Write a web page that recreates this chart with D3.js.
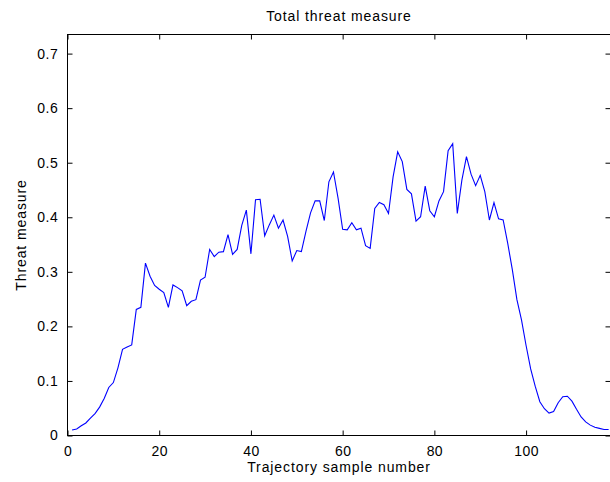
<!DOCTYPE html>
<html>
<head>
<meta charset="utf-8">
<script src="https://cdn.jsdelivr.net/npm/d3@7"></script>
<style>
  html, body { margin: 0; padding: 0; background: #fff; }
  svg { display: block; }
  text { font-family: "Liberation Sans", Arial, Helvetica, sans-serif; fill: #000; }
</style>
</head>
<body>
<svg id="chart" width="610" height="482"></svg>
<script>
// Threat measure per trajectory sample (samples 1..118)
const samples = d3.range(1, 119);
const threat = [
  0.010, 0.012, 0.018, 0.023, 0.032, 0.040, 0.052, 0.068, 0.088, 0.097,
  0.124, 0.158, 0.162, 0.166, 0.231, 0.235, 0.316, 0.292, 0.275, 0.268,
  0.262, 0.235, 0.276, 0.271, 0.265, 0.238, 0.246, 0.249, 0.285, 0.290,
  0.341, 0.328, 0.336, 0.337, 0.368, 0.332, 0.341, 0.385, 0.413, 0.333,
  0.432, 0.433, 0.366, 0.386, 0.404, 0.380, 0.395, 0.365, 0.320, 0.339,
  0.337, 0.374, 0.408, 0.430, 0.430, 0.394, 0.465, 0.483, 0.435, 0.378,
  0.377, 0.390, 0.377, 0.380, 0.348, 0.343, 0.416, 0.427, 0.423, 0.407,
  0.474, 0.520, 0.502, 0.451, 0.443, 0.393, 0.401, 0.457, 0.412, 0.401,
  0.430, 0.447, 0.522, 0.535, 0.407, 0.468, 0.511, 0.479, 0.458, 0.477,
  0.447, 0.395, 0.427, 0.397, 0.395, 0.352, 0.304, 0.249, 0.212, 0.165,
  0.122, 0.090, 0.062, 0.049, 0.041, 0.044, 0.060, 0.071, 0.072, 0.063,
  0.048, 0.034, 0.025, 0.019, 0.015, 0.013, 0.011, 0.011
];
const xTicks = [0, 20, 40, 60, 80, 100];
const yTicks = [0, 0.1, 0.2, 0.3, 0.4, 0.5, 0.6, 0.7];
const titleText = "Total threat measure";
const xLabelText = "Trajectory sample number";
const yLabelText = "Threat measure";

const svg = d3.select("#chart");
const plotLeft = 67.5, plotRight = 610.5, plotTop = 34.5, plotBottom = 435.5;

const x = d3.scaleLinear().domain([0, 118.3]).range([plotLeft, plotRight - 0.5]);
const y = d3.scaleLinear().domain([0, 0.735]).range([plotBottom, plotTop]);

const tickLen = 5;
const fontSize = 14;

// Axes box
svg.append("rect")
  .attr("x", plotLeft).attr("y", plotTop)
  .attr("width", plotRight - plotLeft).attr("height", plotBottom - plotTop)
  .attr("fill", "none").attr("stroke", "#000").attr("stroke-width", 1);

// Inward ticks on all four sides
const dropDomain = g => g.select(".domain").remove();

const xb = svg.append("g")
  .attr("transform", `translate(0,${plotBottom})`)
  .call(d3.axisBottom(x).tickValues(xTicks).tickSizeInner(-tickLen).tickSizeOuter(0)
    .tickPadding(tickLen + 6).tickFormat(d3.format("d")))
  .call(dropDomain);
xb.selectAll("text").attr("font-size", fontSize).attr("letter-spacing", 0.4)
  .attr("font-family", "Liberation Sans, Arial, sans-serif");

svg.append("g")
  .attr("transform", `translate(0,${plotTop})`)
  .call(d3.axisTop(x).tickValues(xTicks).tickSizeInner(-tickLen).tickSizeOuter(0).tickFormat(""))
  .call(dropDomain);

const yl = svg.append("g")
  .attr("transform", `translate(${plotLeft},0)`)
  .call(d3.axisLeft(y).tickValues(yTicks).tickSizeInner(-tickLen).tickSizeOuter(0)
    .tickPadding(tickLen + 4).tickFormat(d => d === 0 ? "0" : d3.format(".1f")(d)))
  .call(dropDomain);
yl.selectAll("text").attr("font-size", fontSize).attr("letter-spacing", 0.6)
  .attr("font-family", "Liberation Sans, Arial, sans-serif");

svg.append("g")
  .attr("transform", `translate(${plotRight},0)`)
  .call(d3.axisRight(y).tickValues(yTicks).tickSizeInner(-tickLen).tickSizeOuter(0).tickFormat(""))
  .call(dropDomain);

svg.selectAll(".tick line").attr("stroke", "#000");

// Data line
const line = d3.line()
  .x((d, i) => x(samples[i]))
  .y(d => y(d));

svg.append("path")
  .datum(threat)
  .attr("fill", "none")
  .attr("stroke", "#0000ff")
  .attr("stroke-width", 1.1)
  .attr("stroke-linejoin", "miter")
  .attr("d", line);

// Title and axis labels
svg.append("text")
  .attr("x", (plotLeft + plotRight) / 2).attr("y", 20.5)
  .attr("text-anchor", "middle").attr("font-size", fontSize)
  .attr("letter-spacing", 0.9)
  .text(titleText);

svg.append("text")
  .attr("x", (plotLeft + plotRight) / 2).attr("y", 472)
  .attr("text-anchor", "middle").attr("font-size", fontSize)
  .attr("letter-spacing", 0.9)
  .text(xLabelText);

svg.append("text")
  .attr("transform", `translate(26,${(plotTop + plotBottom) / 2}) rotate(-90)`)
  .attr("text-anchor", "middle").attr("font-size", fontSize)
  .attr("letter-spacing", 0.9)
  .text(yLabelText);
</script>
</body>
</html>
